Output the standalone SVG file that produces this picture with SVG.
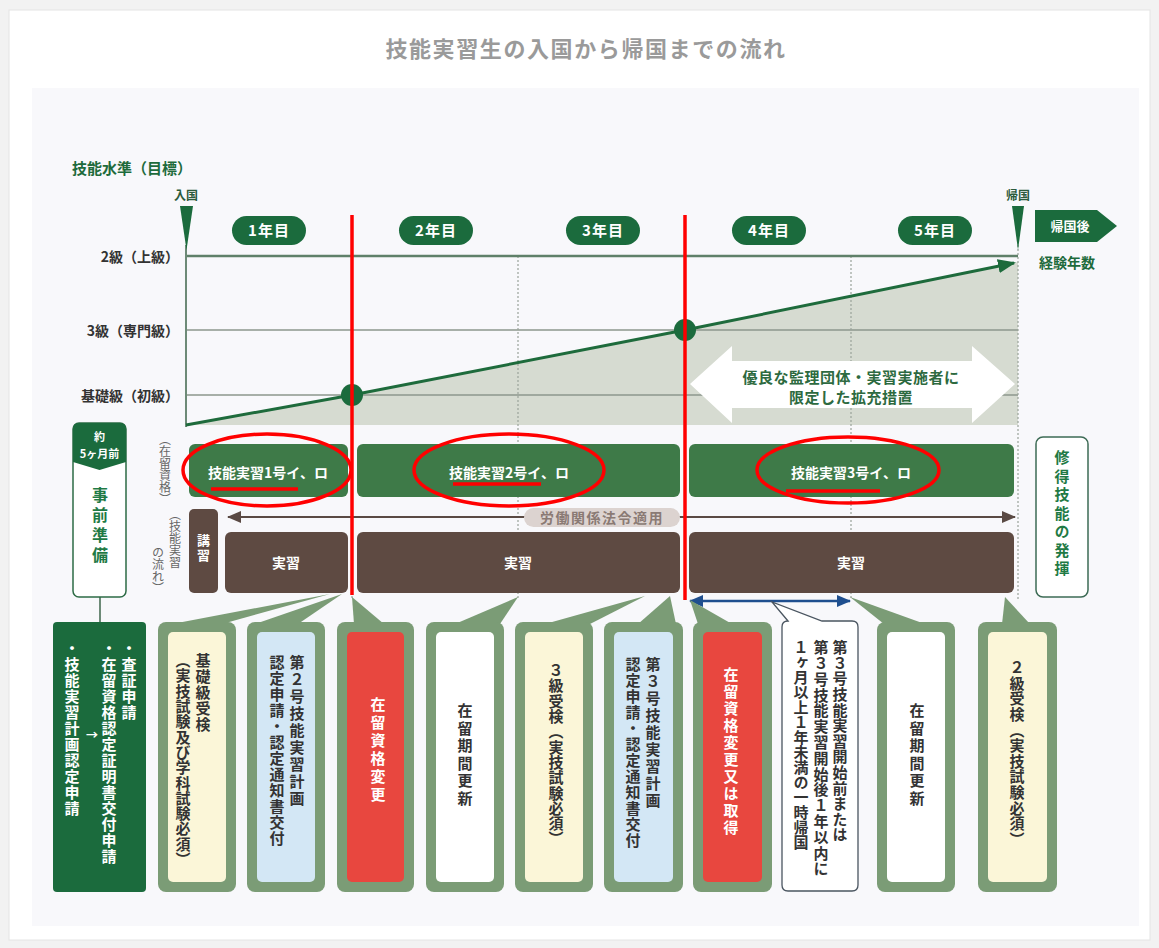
<svg xmlns="http://www.w3.org/2000/svg" width="1159" height="948" viewBox="0 0 1159 948">
<defs>
<style>
text{font-family:"Noto Sans CJK JP","Noto Sans",sans-serif;}
.v{writing-mode:vertical-rl;}
.b{font-weight:700;}
.bx{font-size:15px;font-weight:700;fill:#333;letter-spacing:1px;}
.fr{fill:#7b9c76;}
.pill{fill:#1b6b3d;}
.pt{font-size:15px;font-weight:700;fill:#fff;text-anchor:middle;letter-spacing:1px;}
.lv{font-size:14px;font-weight:700;fill:#333;text-anchor:end;}
.grid{stroke:#8d978c;stroke-width:1.3;}
.dot{stroke:#9aa39a;stroke-width:1.2;stroke-dasharray:2 2;}
.st{fill:#3e7a48;}
.br{fill:#5e4a42;}
.wt{font-size:14px;font-weight:700;fill:#fff;text-anchor:middle;}
.red{stroke:#ff0000;stroke-width:3.5;fill:none;}
</style>
<marker id="ag" markerUnits="userSpaceOnUse" markerWidth="18" markerHeight="14" refX="16" refY="7" orient="auto"><path d="M0,0 L18,7 L0,14 Z" fill="#1e6b3c"/></marker>
<marker id="abr" markerUnits="userSpaceOnUse" markerWidth="14" markerHeight="12" refX="13" refY="6" orient="auto-start-reverse"><path d="M0,0 L14,6 L0,12 Z" fill="#5a4a44"/></marker>
<marker id="abl" markerUnits="userSpaceOnUse" markerWidth="14" markerHeight="12" refX="13" refY="6" orient="auto-start-reverse"><path d="M0,0 L14,6 L0,12 Z" fill="#1f4f8f"/></marker>
</defs>

<rect width="1159" height="948" fill="#f2f2f2"/>
<rect x="9" y="10" width="1141" height="930" fill="#ffffff" stroke="#e4e4e4"/>
<rect x="32" y="88" width="1107" height="838" fill="#f8f8fb"/>
<text x="586" y="57" font-size="22" class="b" fill="#9a9a9a" text-anchor="middle" letter-spacing="1.6">技能実習生の入国から帰国までの流れ</text>

<g id="chart">
<polygon points="186,425 352,395 685,330 1018,262 1018,425" fill="#d6dbd1"/>
<line class="grid" x1="186" y1="330" x2="1018" y2="330"/>
<line class="grid" x1="186" y1="395" x2="1018" y2="395"/>
<line class="dot" x1="352" y1="256" x2="352" y2="600"/>
<line class="dot" x1="518" y1="256" x2="518" y2="600"/>
<line class="dot" x1="685" y1="256" x2="685" y2="600"/>
<line class="dot" x1="851" y1="256" x2="851" y2="600"/>
<line class="dot" x1="1018" y1="245" x2="1018" y2="600"/>
<line x1="186" y1="256" x2="1018" y2="256" stroke="#5f8069" stroke-width="2.5"/>
<line x1="186" y1="245" x2="186" y2="427" stroke="#6d8a77" stroke-width="2"/>
<text x="72" y="174" font-size="15" class="b" fill="#1e6b3c">技能水準（目標）</text>
<text x="186" y="200" font-size="12" class="b" fill="#2b5a3c" text-anchor="middle">入国</text>
<polygon points="180,206 193,206 186.5,250" fill="#1b6b3d"/>
<text x="1018" y="200" font-size="12" class="b" fill="#2b5a3c" text-anchor="middle">帰国</text>
<polygon points="1012,206 1024,206 1018,250" fill="#1b6b3d"/>
<text class="lv" x="179" y="262">2級（上級）</text>
<text class="lv" x="179" y="336">3級（専門級）</text>
<text class="lv" x="179" y="401">基礎級（初級）</text>
</g>

<g id="years">
<rect class="pill" x="232" y="216" width="74" height="29" rx="14.5"/><text class="pt" x="269" y="236">1年目</text>
<rect class="pill" x="399" y="216" width="74" height="29" rx="14.5"/><text class="pt" x="436" y="236">2年目</text>
<rect class="pill" x="566" y="216" width="74" height="29" rx="14.5"/><text class="pt" x="603" y="236">3年目</text>
<rect class="pill" x="732" y="216" width="74" height="29" rx="14.5"/><text class="pt" x="769" y="236">4年目</text>
<rect class="pill" x="898" y="216" width="74" height="29" rx="14.5"/><text class="pt" x="935" y="236">5年目</text>
</g>

<g id="kikokugo">
<polygon points="1035,210 1097,210 1117,226 1097,242 1035,242" fill="#1b6b3d"/>
<text x="1070" y="231" font-size="13" class="b" fill="#fff" text-anchor="middle">帰国後</text>
<text x="1067" y="268" font-size="14" class="b" fill="#1e6b3c" text-anchor="middle">経験年数</text>
</g>

<g id="kakuju">
<polygon points="690,384 732,346 732,361 972,361 972,346 1015,384 972,423 972,408 732,408 732,423" fill="#ffffff"/>
<text x="851" y="383" font-size="15" class="b" fill="#2d6a40" text-anchor="middle" letter-spacing="0.5">優良な監理団体・実習実施者に</text>
<text x="851" y="403" font-size="15" class="b" fill="#2d6a40" text-anchor="middle" letter-spacing="0.5">限定した拡充措置</text>
</g>

<g id="connectors">
<polyline points="186,425 352,395 685,330 1014,263" fill="none" stroke="#1e6b3c" stroke-width="3" marker-end="url(#ag)"/>
<line x1="228" y1="517" x2="1015" y2="517" stroke="#5a4a44" stroke-width="2" marker-start="url(#abr)" marker-end="url(#abr)"/>
<line x1="690" y1="601" x2="850" y2="601" stroke="#1f4f8f" stroke-width="2.5" marker-start="url(#abl)" marker-end="url(#abl)"/>
<line x1="100" y1="597" x2="100" y2="622" stroke="#6d8a77" stroke-width="2"/>
</g>
<circle cx="352" cy="395" r="11" fill="#1b6b3d"/>
<circle cx="685" cy="330" r="11" fill="#1b6b3d"/>

<g id="jizen">
<rect x="73" y="423" width="53" height="174" rx="6" fill="#fff" stroke="#2d6b45" stroke-width="1.5"/>
<path d="M79,423 L120,423 Q126,423 126,429 L126,462 L99.5,470 L73,462 L73,429 Q73,423 79,423 Z" fill="#1b6b3d"/>
<text x="99.5" y="441" font-size="11" class="b" fill="#fff" text-anchor="middle">約</text>
<text x="99.5" y="458" font-size="11" class="b" fill="#fff" text-anchor="middle">5ヶ月前</text>
<text class="v b" x="100" y="487" font-size="16" fill="#1f7a45" letter-spacing="4">事前準備</text>
</g>

<g id="sidelabels">
<text class="v" x="165" y="433" font-size="12" fill="#666">（在留資格）</text>
<text class="v" x="175" y="508" font-size="12" fill="#666">（技能実習</text>
<text class="v" x="158" y="546" font-size="12" fill="#666">の流れ）</text>
</g>

<g id="status">
<rect class="st" x="189" y="444" width="159" height="53" rx="6"/>
<text class="wt" x="268" y="478">技能実習1号イ、ロ</text>
<rect class="st" x="357" y="444" width="323" height="53" rx="6"/>
<text class="wt" x="509" y="478">技能実習2号イ、ロ</text>
<rect class="st" x="689" y="444" width="325" height="53" rx="6"/>
<text class="wt" x="851" y="478">技能実習3号イ、ロ</text>
</g>

<g id="flow">
<rect class="br" x="189" y="509" width="29" height="84" rx="5"/>
<text class="v b" x="203.5" y="534" font-size="13" fill="#fff" letter-spacing="2">講習</text>
<rect class="br" x="225" y="532" width="123" height="61" rx="6"/>
<text class="wt" x="286" y="568">実習</text>
<rect class="br" x="357" y="532" width="323" height="61" rx="6"/>
<text class="wt" x="518" y="568">実習</text>
<rect class="br" x="689" y="532" width="325" height="61" rx="6"/>
<text class="wt" x="851" y="568">実習</text>
<rect x="524" y="508" width="156" height="19" rx="9.5" fill="#dcd3d0"/>
<text x="602" y="523" font-size="14" class="b" fill="#8a7a74" text-anchor="middle" letter-spacing="1.5">労働関係法令適用</text>
</g>

<g id="shutoku">
<rect x="1036" y="437" width="52" height="160" rx="7" fill="#fff" stroke="#3d6b55" stroke-width="1.5"/>
<text class="v b" x="1062" y="450" font-size="15" fill="#1f7a45" letter-spacing="3.5">修得技能の発揮</text>
</g>

<g id="b1">
<rect x="53" y="622" width="93" height="270" rx="4" fill="#1b6b3d"/>
<text class="v bx" x="129" y="641" style="fill:#fff">・査証申請</text>
<text class="v bx" x="109" y="641" style="fill:#fff">・在留資格認定証明書交付申請</text>
<text x="92" y="740" font-size="12" class="b" fill="#fff" text-anchor="middle">→</text>
<text class="v bx" x="72" y="641" style="fill:#fff">・技能実習計画認定申請</text>
</g>

<g id="b2">
<polygon class="fr" points="172,624 330,594 222,624"/>
<rect class="fr" x="158" y="622" width="78" height="270" rx="8"/>
<rect x="168" y="632" width="58" height="250" rx="5" fill="#fbf6d8"/>
<text class="v bx" x="203" y="653">基礎級受検</text>
<text class="v bx" x="183" y="653" style="letter-spacing:0.3px">（実技試験及び学科試験必須）</text>
</g>

<g id="b3">
<polygon class="fr" points="255,624 342,594 298,624"/>
<rect class="fr" x="247" y="622" width="78" height="270" rx="8"/>
<rect x="257" y="632" width="58" height="250" rx="5" fill="#d3e7f5"/>
<text class="v bx" x="297" y="655" style="letter-spacing:2px">第２号技能実習計画</text>
<text class="v bx" x="277" y="655">認定申請・認定通知書交付</text>
</g>

<g id="b4">
<polygon class="fr" points="354,624 352,597 384,624"/>
<rect class="fr" x="337" y="622" width="77" height="270" rx="8"/>
<rect x="347" y="632" width="57" height="250" rx="5" fill="#e8473f"/>
<text class="v bx" x="378" y="697" style="fill:#fff;letter-spacing:3px">在留資格変更</text>
</g>

<g id="b5">
<polygon class="fr" points="455,624 518,597 500,624"/>
<rect class="fr" x="426" y="622" width="78" height="270" rx="8"/>
<rect x="436" y="632" width="58" height="250" rx="5" fill="#ffffff"/>
<text class="v bx" x="465" y="703" style="letter-spacing:2.5px">在留期間更新</text>
</g>

<g id="b6">
<polygon class="fr" points="545,624 645,596 590,624"/>
<rect class="fr" x="515" y="622" width="78" height="270" rx="8"/>
<rect x="525" y="632" width="58" height="250" rx="5" fill="#fbf6d8"/>
<text class="v bx" x="556" y="663" style="letter-spacing:0.3px">３級受検（実技試験必須）</text>
</g>

<g id="b7">
<polygon class="fr" points="638,624 670,596 676,624"/>
<rect class="fr" x="604" y="622" width="79" height="270" rx="8"/>
<rect x="614" y="632" width="59" height="250" rx="5" fill="#d3e7f5"/>
<text class="v bx" x="653" y="657" style="letter-spacing:2px">第３号技能実習計画</text>
<text class="v bx" x="633" y="657">認定申請・認定通知書交付</text>
</g>

<g id="b8">
<polygon class="fr" points="698,624 690,600 732,624"/>
<rect class="fr" x="693" y="622" width="79" height="270" rx="8"/>
<rect x="703" y="632" width="59" height="250" rx="5" fill="#e8473f"/>
<text class="v bx" x="731" y="667" style="fill:#fff;letter-spacing:2px">在留資格変更又は取得</text>
</g>

<g id="b9">
<path d="M788,621 L772,602 L822,621 L852,621 Q858,621 858,627 L858,885 Q858,891 852,891 L788,891 Q782,891 782,885 L782,627 Q782,621 788,621 Z" fill="#ffffff" stroke="#4a5560" stroke-width="1.3"/>
<text class="v bx" x="840" y="640" style="letter-spacing:0.6px">第３号技能実習開始前または</text>
<text class="v bx" x="821" y="640" style="letter-spacing:0.8px">第３号技能実習開始後１年以内に</text>
<text class="v bx" x="801" y="640" style="letter-spacing:0px">１ヶ月以上１年未満の一時帰国</text>
</g>

<g id="b10">
<polygon class="fr" points="884,624 850,597 925,624"/>
<rect class="fr" x="877" y="622" width="78" height="270" rx="8"/>
<rect x="887" y="632" width="58" height="250" rx="5" fill="#ffffff"/>
<text class="v bx" x="917" y="703" style="letter-spacing:2.5px">在留期間更新</text>
</g>

<g id="b11">
<polygon class="fr" points="1002,624 1005,597 1030,624"/>
<rect class="fr" x="978" y="622" width="79" height="270" rx="8"/>
<rect x="988" y="632" width="59" height="250" rx="5" fill="#fbf6d8"/>
<text class="v bx" x="1017" y="660" style="letter-spacing:0.6px">２級受検（実技試験必須）</text>
</g>

<g id="annotations">
<line class="red" x1="352" y1="215" x2="352" y2="595"/>
<line class="red" x1="685" y1="215" x2="685" y2="600"/>
<ellipse class="red" cx="267" cy="470" rx="84" ry="36"/>
<ellipse class="red" cx="509" cy="470" rx="95" ry="36"/>
<ellipse class="red" cx="848" cy="470" rx="91" ry="33"/>
<line class="red" x1="211" y1="489" x2="298" y2="489" stroke-width="4"/>
<line class="red" x1="453" y1="484" x2="541" y2="484" stroke-width="4"/>
<line class="red" x1="786" y1="491" x2="880" y2="491" stroke-width="4"/>
</g>
</svg>
